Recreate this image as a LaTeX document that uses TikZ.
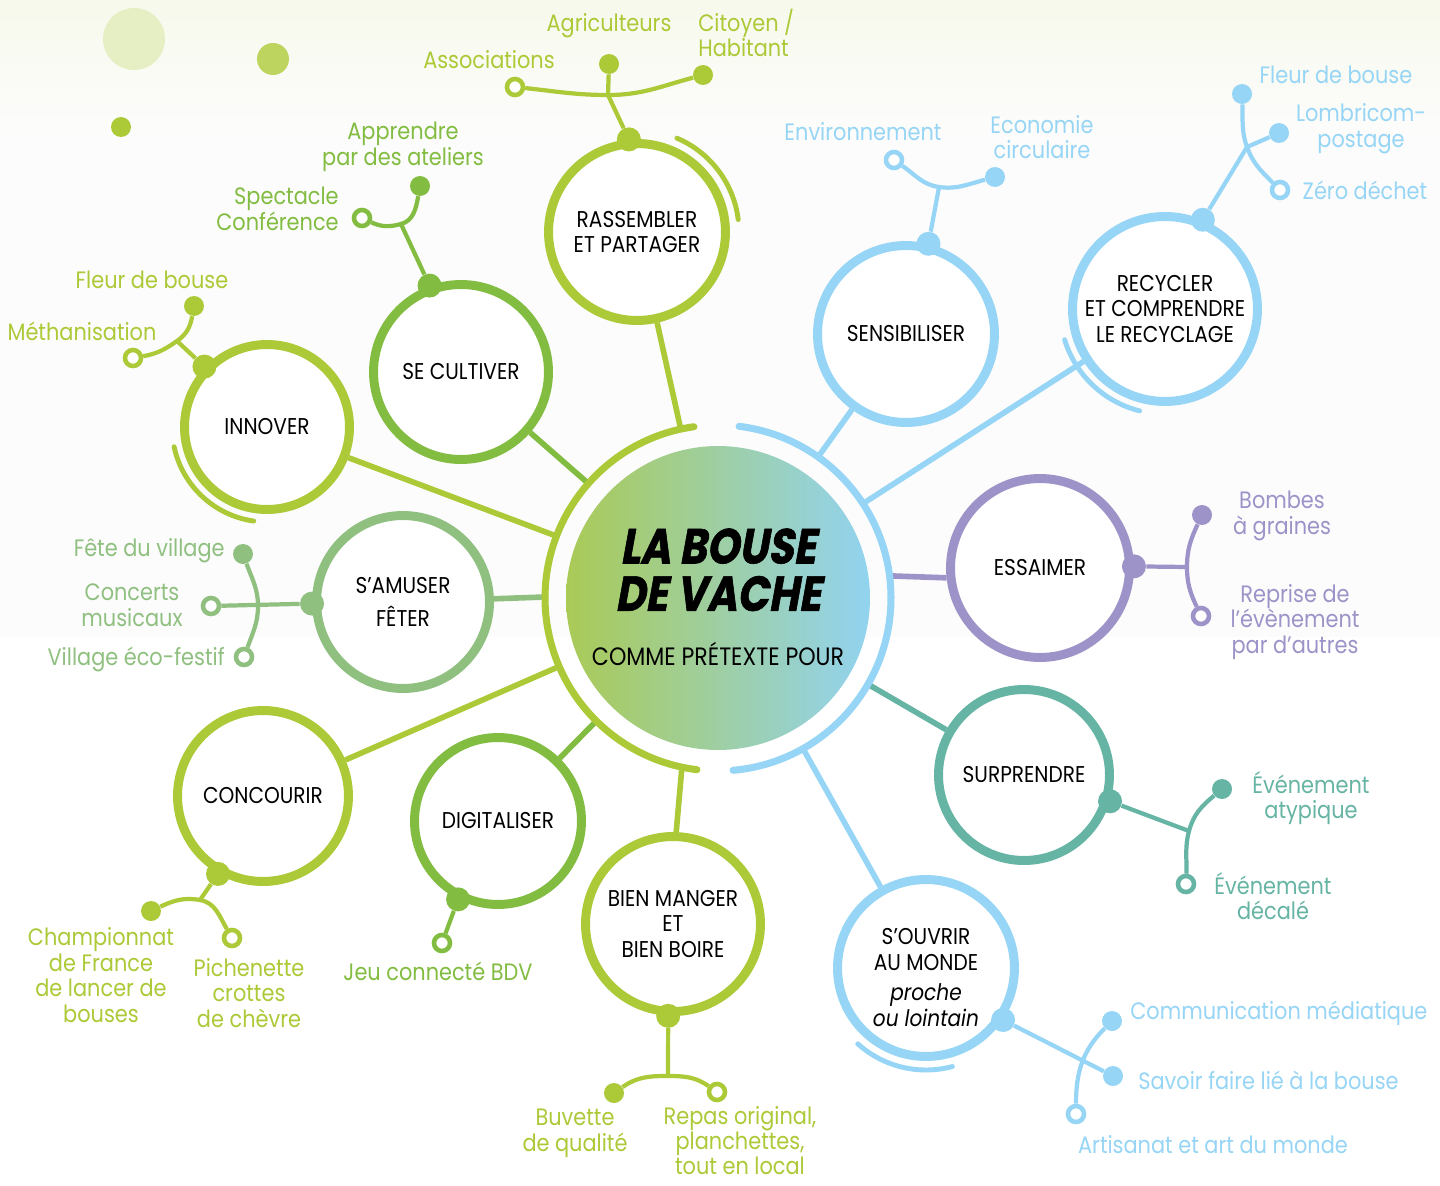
\documentclass[tikz,border=0pt]{standalone}
\usepackage{fontspec}
\setmainfont{Poppins}[FakeStretch=0.88]
\newfontfamily\titlefont{Poppins}[FakeStretch=0.84, FakeSlant=0.18, FakeBold=1.2]
\usetikzlibrary{positioning, backgrounds}

\definecolor{bdvlime}{RGB}{172, 201, 55}
\definecolor{bdvgreen}{RGB}{130, 188, 65}
\definecolor{bdvsage}{RGB}{143, 192, 128}
\definecolor{bdvblue}{RGB}{150, 213, 245}
\definecolor{bdvpurple}{RGB}{157, 147, 200}
\definecolor{bdvteal}{RGB}{102, 180, 164}

\tikzset{
  topic/.style={circle, draw=#1, line width=5.1pt, fill=white, align=center, inner sep=0pt,
    font=\fontsize{13}{14.6}\selectfont},
  link/.style={draw=#1, line width=3.2pt},
  twig/.style={draw=#1, line width=2.4pt},
  knot/.style={circle, fill=#1, minimum size=0.48cm, inner sep=0pt},
  leaf/.style={circle, fill=#1, minimum size=0.4cm, inner sep=0pt},
  bud/.style={circle, draw=#1, fill=white, line width=2.6pt, minimum size=0.32cm, inner sep=0pt},
  tag/.style={text=#1, align=center, inner sep=0pt, font=\fontsize{13.5}{14.6}\selectfont},
  halo/.style={draw=#1, line width=2.8pt, line cap=round},
}

\begin{document}
\begin{tikzpicture}[x=0.02cm, y=-0.02cm]
  \useasboundingbox (0,0) rectangle (1440,1186);
  \begin{scope}[on background layer]
    \fill[white] (0,0) rectangle (1440,1186);
    \fill[black!1] (0,140) rectangle (1440,637);
    \shade[top color={rgb,255:red,247;green,249;blue,236}, bottom color=black!1] (0,0) rectangle (1440,140);
  \end{scope}

  % decoration dots
  \fill[bdvlime!30] (134,39) circle (0.62cm);
  \fill[bdvlime!80] (273,59) circle (0.32cm);
  \fill[bdvlime] (121,127) circle (0.2cm);

  % hub
  \shade[left color={rgb,255:red,170;green,202;blue,86}, middle color={rgb,255:red,160;green,208;blue,178},
    right color={rgb,255:red,146;green,211;blue,240}] (718,598) circle (3.04cm);
  \node[circle, minimum size=6.92cm, inner sep=0pt, align=center, font=\fontsize{28}{27}\selectfont] (hub) at (718,597)
    {{\titlefont\bfseries LA BOUSE}\\{\titlefont\bfseries DE VACHE}\\[4pt]{\fontsize{14.3}{15}\selectfont COMME PRÉTEXTE POUR}};
  \draw[halo=bdvlime, line width=4pt] ([shift={(98:3.46cm)}]718,598) arc[start angle=98, end angle=263, radius=3.46cm];
  \draw[halo=bdvblue, line width=4pt] ([shift={(83:3.46cm)}]718,598) arc[start angle=83, end angle=-85, radius=3.46cm];

  % topics
  \node[topic=bdvlime, minimum size=3.54cm] (rass) at (637,232) {RASSEMBLER\\ET PARTAGER};
  \node[topic=bdvgreen, minimum size=3.5cm] (cult) at (461,372) {SE CULTIVER};
  \node[topic=bdvlime, minimum size=3.3cm] (inno) at (267,427) {INNOVER};
  \node[topic=bdvsage, minimum size=3.46cm] (fete) at (403,602) {S’AMUSER\\[4pt]FÊTER};
  \node[topic=bdvlime, minimum size=3.42cm] (conc) at (263,796) {CONCOURIR};
  \node[topic=bdvgreen, minimum size=3.34cm] (digi) at (498,821) {DIGITALISER};
  \node[topic=bdvlime, minimum size=3.5cm] (bien) at (673,924) {BIEN MANGER\\ET\\BIEN BOIRE};
  \node[topic=bdvblue, minimum size=3.54cm] (sens) at (906,334) {SENSIBILISER};
  \node[topic=bdvblue, minimum size=3.7cm] (recy) at (1165,309) {RECYCLER\\ET COMPRENDRE\\LE RECYCLAGE};
  \node[topic=bdvpurple, minimum size=3.58cm] (essa) at (1040,568) {ESSAIMER};
  \node[topic=bdvteal, minimum size=3.42cm] (surp) at (1024,775) {SURPRENDRE};
  \node[topic=bdvblue, minimum size=3.54cm] (ouvr) at (926,968)
    {\rule{0pt}{20pt}S’OUVRIR\\AU MONDE\\[3pt]{\itshape proche}\\{\itshape ou lointain}};

  % halos
  \draw[halo=bdvlime] ([shift={(67:2.04cm)}]rass.center) arc[start angle=67, end angle=7, radius=2.04cm];
  \draw[halo=bdvlime] ([shift={(192:1.9cm)}]inno.center) arc[start angle=192, end angle=262, radius=1.9cm];
  \draw[halo=bdvblue] ([shift={(197:2.1cm)}]recy.center) arc[start angle=197, end angle=256, radius=2.1cm];
  \draw[halo=bdvblue] ([shift={(228:2.04cm)}]ouvr.center) arc[start angle=228, end angle=285, radius=2.04cm];

  % links to the hub
  \begin{scope}[on background layer]
    \draw[link=bdvlime] (hub) -- (rass);
    \draw[link=bdvgreen] (hub) -- (cult);
    \draw[link=bdvlime] (hub) -- (inno);
    \draw[link=bdvsage] (hub.180) -- (fete);
    \draw[link=bdvlime] (hub) -- (conc);
    \draw[link=bdvgreen] (hub) -- (digi);
    \draw[link=bdvlime] (hub.258) -- (bien.88);
    \draw[link=bdvblue] (hub) -- (sens);
    \draw[link=bdvblue] (hub) -- (recy);
    \draw[link=bdvpurple] (hub.7) -- (essa.186);
    \draw[link=bdvteal] (hub) -- (surp);
    \draw[link=bdvblue] (hub) -- (ouvr);
  \end{scope}

  % rassembler
  \node[knot=bdvlime] (rass-k) at (rass.95) {};
  \coordinate (rass-j) at (608,95);
  \node[leaf=bdvlime] (rass-a) at (609,64) {};
  \node[bud=bdvlime] (rass-b) at (515,87) {};
  \node[leaf=bdvlime] (rass-c) at (703,75) {};
  \draw[twig=bdvlime] (rass-k) -- (rass-j) -- (rass-a);
  \draw[twig=bdvlime] (rass-b) to[out=-6, in=180] (rass-j) to[out=0, in=-165] (rass-c);
  \node[tag=bdvlime] at (489,60) {Associations};
  \node[tag=bdvlime, above=9pt of rass-a] {Agriculteurs};
  \node[tag=bdvlime, anchor=west, align=left] at (698,33) {Citoyen /\\Habitant};

  % se cultiver
  \node[knot=bdvgreen] (cult-k) at (cult.110) {};
  \coordinate (cult-j) at (401,224);
  \node[leaf=bdvgreen] (cult-a) at (420,186) {};
  \node[bud=bdvgreen] (cult-b) at (362,218) {};
  \draw[twig=bdvgreen] (cult-k) -- (cult-j);
  \draw[twig=bdvgreen] (cult-b) to[out=-25, in=195] (cult-j) to[out=15, in=-100] (cult-a);
  \node[tag=bdvgreen] at (403,147) {Apprendre\\par des ateliers};
  \node[tag=bdvgreen, anchor=east, align=right] at (339,209) {Spectacle\\Conférence};

  % innover
  \node[knot=bdvlime] (inno-k) at (inno.136) {};
  \coordinate (inno-j) at (177,341);
  \node[leaf=bdvlime] (inno-a) at (194,306) {};
  \node[bud=bdvlime] (inno-b) at (133,358) {};
  \draw[twig=bdvlime] (inno-k) -- (inno-j);
  \draw[twig=bdvlime] (inno-b) to[out=10, in=215] (inno-j) to[out=35, in=-100] (inno-a);
  \node[tag=bdvlime] at (152,280) {Fleur de bouse};
  \node[tag=bdvlime] at (82,331) {Méthanisation};

  % s'amuser
  \node[knot=bdvsage] (fete-k) at (fete.181) {};
  \coordinate (fete-j) at (258,606);
  \node[leaf=bdvsage] (fete-a) at (243,554) {};
  \node[bud=bdvsage] (fete-b) at (211,606) {};
  \node[bud=bdvsage] (fete-c) at (244,657) {};
  \draw[twig=bdvsage] (fete-k) -- (fete-b);
  \draw[twig=bdvsage] (fete-a) to[out=-70, in=90] (fete-j) to[out=-90, in=70] (fete-c);
  \node[tag=bdvsage, anchor=east] at (225,551) {Fête du village};
  \node[tag=bdvsage] at (132,605) {Concerts\\musicaux};
  \node[tag=bdvsage, anchor=east] at (225,659) {Village éco-festif};

  % concourir
  \node[knot=bdvlime] (conc-k) at (conc.240) {};
  \coordinate (conc-j) at (200,900);
  \node[leaf=bdvlime] (conc-a) at (151,911) {};
  \node[bud=bdvlime] (conc-b) at (232,938) {};
  \draw[twig=bdvlime] (conc-k) -- (conc-j);
  \draw[twig=bdvlime] (conc-a) to[out=25, in=170] (conc-j) to[out=-10, in=120] (conc-b);
  \node[tag=bdvlime] at (101,975) {Championnat\\de France\\de lancer de\\bouses};
  \node[tag=bdvlime] at (249,993) {Pichenette\\crottes\\de chèvre};

  % digitaliser
  \node[knot=bdvgreen] (digi-k) at (digi.243) {};
  \node[bud=bdvgreen] (digi-b) at (442,943) {};
  \draw[twig=bdvgreen] (digi-k) -- (digi-b);
  \node[tag=bdvgreen] at (438,971) {Jeu connecté BDV};

  % bien manger
  \node[knot=bdvlime] (bien-k) at (bien.267) {};
  \coordinate (bien-j) at (668,1076);
  \node[leaf=bdvlime] (bien-a) at (614,1093) {};
  \node[bud=bdvlime] (bien-b) at (717,1092) {};
  \draw[twig=bdvlime] (bien-k) -- (bien-j);
  \draw[twig=bdvlime] (bien-a) to[out=35, in=180] (bien-j) to[out=0, in=145] (bien-b);
  \node[tag=bdvlime] at (575,1133) {Buvette\\de qualité};
  \node[tag=bdvlime, font=\fontsize{13.5}{14.2}\selectfont] at (740,1141) {Repas original,\\planchettes,\\tout en local};

  % sensibiliser
  \node[knot=bdvblue] (sens-k) at (sens.76) {};
  \coordinate (sens-j) at (939,187);
  \node[bud=bdvblue] (sens-b) at (894,160) {};
  \node[leaf=bdvblue] (sens-c) at (995,177) {};
  \draw[twig=bdvblue] (sens-k) -- (sens-j);
  \draw[twig=bdvblue] (sens-b) to[out=-35, in=172] (sens-j) to[out=-8, in=195] (sens-c);
  \node[tag=bdvblue] at (863,132) {Environnement};
  \node[tag=bdvblue] at (1042,137) {Economie\\circulaire};

  % recycler
  \node[knot=bdvblue] (recy-k) at (recy.67) {};
  \coordinate (recy-j) at (1247,147);
  \node[leaf=bdvblue] (recy-a) at (1242,94) {};
  \node[leaf=bdvblue] (recy-b) at (1279,133) {};
  \node[bud=bdvblue] (recy-c) at (1280,190) {};
  \draw[twig=bdvblue] (recy-k) -- (recy-j) -- (recy-b);
  \draw[twig=bdvblue] (recy-a) to[out=-88, in=110] (recy-j) to[out=-70, in=135] (recy-c);
  \node[tag=bdvblue] at (1336,75) {Fleur de bouse};
  \node[tag=bdvblue] at (1361,129) {Lombricom-\\postage};
  \node[tag=bdvblue] at (1365,190) {Zéro déchet};

  % essaimer
  \node[knot=bdvpurple] (essa-k) at (essa.1) {};
  \coordinate (essa-j) at (1187,567);
  \node[leaf=bdvpurple] (essa-a) at (1202,515) {};
  \node[bud=bdvpurple] (essa-b) at (1201,616) {};
  \draw[twig=bdvpurple] (essa-k) -- (essa-j);
  \draw[twig=bdvpurple] (essa-a) to[out=-115, in=90] (essa-j) to[out=-90, in=115] (essa-b);
  \node[tag=bdvpurple] at (1282,516) {Bombes\\à graines};
  \node[tag=bdvpurple] at (1295,622) {Reprise de\\l’évènement\\par d’autres};

  % surprendre
  \node[knot=bdvteal] (surp-k) at (surp.343) {};
  \coordinate (surp-j) at (1189,831);
  \node[leaf=bdvteal] (surp-a) at (1222,789) {};
  \node[bud=bdvteal] (surp-b) at (1186,884) {};
  \draw[twig=bdvteal] (surp-k) -- (surp-j);
  \draw[twig=bdvteal] (surp-a) to[out=-140, in=75] (surp-j) to[out=-105, in=88] (surp-b);
  \node[tag=bdvteal] at (1311,798) {Événement\\atypique};
  \node[tag=bdvteal] at (1273,896) {Événement\\décalé};

  % s'ouvrir
  \node[knot=bdvblue] (ouvr-k) at (ouvr.326) {};
  \node[leaf=bdvblue] (ouvr-a) at (1112,1021) {};
  \node[leaf=bdvblue] (ouvr-b) at (1113,1076) {};
  \node[bud=bdvblue] (ouvr-c) at (1076,1114) {};
  \draw[twig=bdvblue] (ouvr-k) -- (ouvr-b);
  \draw[twig=bdvblue] (ouvr-a) to[out=-135, in=90] (ouvr-c);
  \node[tag=bdvblue, anchor=west] at (1130,1013) {Communication médiatique};
  \node[tag=bdvblue, anchor=west] at (1138,1080) {Savoir faire lié à la bouse};
  \node[tag=bdvblue] at (1213,1145) {Artisanat et art du monde};
\end{tikzpicture}
\end{document}
